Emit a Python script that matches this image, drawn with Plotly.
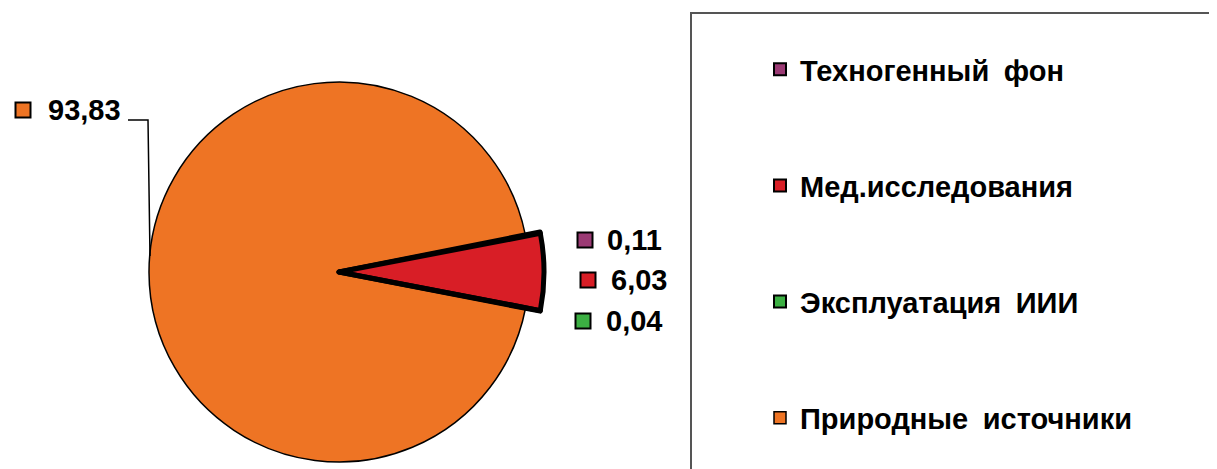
import plotly.graph_objects as go

# ---- data ----
categories = ["Техногенный\u2002фон", "Мед.исследования", "Эксплуатация\u2002ИИИ", "Природные\u2002источники"]
values = [0.11, 6.03, 0.04, 93.83]
colors = ["#9B3A74", "#D81E26", "#3CB043", "#EE7424"]

W, H = 1217, 469
OX, OY = 8, 8          # page body margin offset
FONT = "Liberation Sans, Arial, sans-serif"

def fmt(v):
    return f"{v:.2f}".replace(".", ",")

def px(x, y):
    """screen pixel -> paper coordinates"""
    return (x - OX) / W, 1 - (y - OY) / H

# pie geometry (figure pixels)
cx, cy = 339 - OX, 272 - OY
r_main = 190
r_wedge = min(220, H - cy)

def dom(r):
    return dict(x=[(cx - r) / W, (cx + r) / W], y=[(H - cy - r) / H, (H - cy + r) / H])

start_rot = 90 - values[0] * 3.6 - values[1] * 3.6 / 2
# extra blank lines above each entry (except the first) give the wide legend spacing
legend_labels = [c if i == 0 else "<br><br>" + c for i, c in enumerate(categories)]

fig = go.Figure()
fig.add_trace(go.Pie(
    labels=legend_labels, values=values, sort=False, direction="clockwise",
    rotation=start_rot, domain=dom(r_main), textinfo="none", hoverinfo="value",
    marker=dict(colors=colors, line=dict(color="#000000", width=[2, 2, 2, 1.5])),
    showlegend=True,
))
fig.add_trace(go.Pie(
    labels=legend_labels, values=values, sort=False, direction="clockwise",
    rotation=start_rot, domain=dom(r_wedge), textinfo="none", hoverinfo="value",
    marker=dict(colors=colors[:3] + ["rgba(0,0,0,0)"],
                line=dict(color="#000000", width=[5, 5, 5, 0])),
    showlegend=False,
))

# data labels with keys (screen pixels: key centre x, y, text left x)
label_pos = [(585, 240, 605), (588, 280, 609), (583, 321, 604), (23, 110, 46)]
annotations = []
shapes = []
for (kx, ky, tx), v, c in zip(label_pos, values, colors):
    x0, y0 = px(kx - 7.5, ky - 7.5)
    x1, y1 = px(kx + 7.5, ky + 7.5)
    shapes.append(dict(type="rect", xref="paper", yref="paper", x0=x0, y0=y1, x1=x1, y1=y0,
                       fillcolor=c, line=dict(color="#000000", width=2)))
    ax, ay = px(tx, ky)
    annotations.append(dict(xref="paper", yref="paper", x=ax, y=ay, xanchor="left", yanchor="middle",
                            text="<b>" + fmt(v) + "</b>", showarrow=False,
                            font=dict(family=FONT, size=29, color="#000000")))

# leader line for the large slice
p1 = px(128, 120); p2 = px(148, 120); p3 = px(150, 256)
shapes.append(dict(type="path", xref="paper", yref="paper",
                   path=f"M {p1[0]},{p1[1]} L {p2[0]},{p2[1]} L {p3[0]},{p3[1]}",
                   line=dict(color="#000000", width=1.5)))

# legend frame
b0 = px(691, 13); b1 = px(1240, 500)
shapes.append(dict(type="rect", xref="paper", yref="paper", x0=b0[0], y0=b1[1], x1=b1[0], y1=b0[1],
                   line=dict(color="#555555", width=2), fillcolor="rgba(0,0,0,0)"))

lx, ly = px(760, 44)
fig.update_layout(
    width=W, height=H,
    margin=dict(l=0, r=0, t=0, b=0),
    paper_bgcolor="#FFFFFF", plot_bgcolor="#FFFFFF",
    showlegend=True,
    legend=dict(x=lx, y=ly, xanchor="left", yanchor="top",
                bgcolor="rgba(0,0,0,0)", borderwidth=0, traceorder="normal",
                font=dict(family=FONT, size=29, color="#000000", weight="bold"),
                valign="bottom"),
    shapes=shapes,
    annotations=annotations,
)

fig.write_html("out.html")
